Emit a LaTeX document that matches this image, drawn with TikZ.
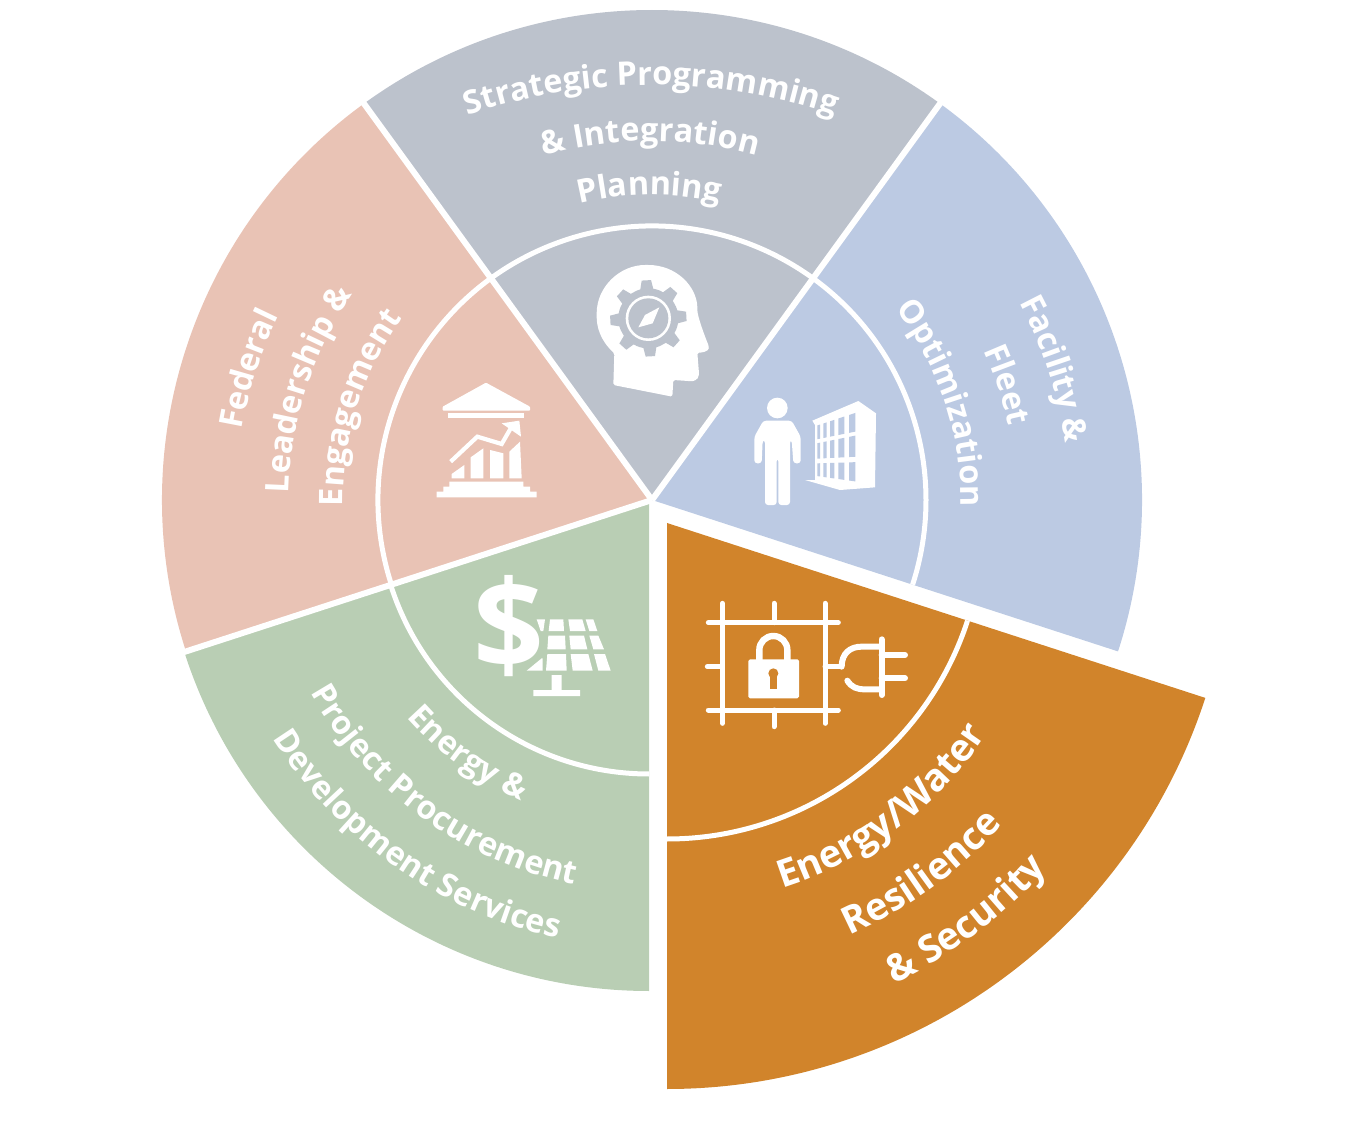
\documentclass[tikz,border=0pt]{standalone}
\usepackage{fontspec}
\setmainfont{Open Sans}
\usetikzlibrary{decorations.text,calc}
\definecolor{cgray}{HTML}{BCC2CC}
\definecolor{cblue}{HTML}{BCCAE3}
\definecolor{csalmon}{HTML}{E9C3B5}
\definecolor{cgreen}{HTML}{B9CEB4}
\definecolor{corange}{HTML}{D1842B}
\newcommand{\arctext}[6][16.2pt]{\path[decorate,decoration={text along path,text align={center},text={|\color{white}\fontsize{#1}{20pt}\selectfont\bfseries|#6}}] (#2) ++(#4:#3) arc (#4:#5:#3);}
\tikzset{
  spoke/.style={white,line width=3pt},
  ring/.style={white,line width=2.5pt},
  zoomone/.style={shift={(580,871)},x=0.16667pt,y=-0.16667pt},
  zoomtwo/.style={shift={(420,751)},x=0.16667pt,y=-0.16667pt},
  zoomthree/.style={shift={(690,531)},x=0.16667pt,y=-0.16667pt},
  wire/.style={white,line width=2.5pt,line cap=round},
  plugwire/.style={white,line width=3pt,line cap=round},
}
\begin{document}
\begin{tikzpicture}[x=0.5pt,y=0.5pt]
\useasboundingbox (0,0) rectangle (1350,1121);
\coordinate (c) at (652,621);
\coordinate (o) at (667,598);
\coordinate (g) at (649,618);
\coordinate (t1) at (651,469);
\coordinate (t2) at (650,580);
% wedges
\fill[cgray] (c) -- ++(126:490) arc (126:54:490) -- cycle;
\fill[cblue] (c) -- ++(54:490) arc (54:-18:490) -- cycle;
\fill[csalmon] (c) -- ++(198:490) arc (198:126:490) -- cycle;
\fill[cgreen] (g) -- ++(198:488) arc (198:270:488) -- cycle;
\fill[corange] (o) -- ++(-90:566) arc (-90:-18:566) -- cycle;
% rings
\draw[ring] (c) ++(198:274) arc (198:-18:274);
\draw[ring] (g) ++(198:271) arc (198:270:271);
\draw[ring] (o) ++(-90:316) arc (-90:-18:316);
% spokes
\path (c) ++(126:495) coordinate (s1) (c) ++(54:495) coordinate (s2) (c) ++(198:495) coordinate (s3);
\draw[spoke] (c) -- (s1);
\draw[spoke] (c) -- (s2);
\draw[spoke] (c) -- (s3);
% labels
\arctext{t1}{567}{115}{65}{Strategic Programming}
\arctext{t2}{400}{120}{60}{{\&} Integration}
\arctext{c}{305}{130.5}{50.5}{Planning}
\arctext{c}{416}{198}{126}{Federal}
\arctext{c}{363}{198.2}{126.2}{Leadership {\&}}
\arctext{c}{309}{198.5}{126.5}{Engagement}
\arctext{c}{417}{54}{-18}{Facility {\&}}
\arctext{c}{364}{54}{-18}{Fleet}
\arctext{c}{309}{54.5}{-17.5}{Optimization}
\arctext{c}{328}{190}{278}{Energy {\&}}
\arctext{c}{392}{190.5}{277.5}{Project Procurement}
\arctext{c}{448}{190.5}{279.5}{Development Services}
\arctext[19pt]{o}{383}{-98}{-8}{Energy/Water}
\arctext[19pt]{o}{451}{-99}{-9}{Resilience}
\arctext[19pt]{o}{514}{-98}{-8}{{\&} Security}
% head icon
\begin{scope}[zoomone]
\fill[white,rounded corners=0.8pt] (100,405) -- (103,310) .. controls (60,270) and (50,230) .. (50,195) .. controls (50,110) and (120,45) .. (200,45) .. controls (290,45) and (350,110) .. (352,175) .. controls (352,200) and (375,260) .. (387,290) .. controls (385,305) and (365,308) .. (352,308) -- (357,370) .. controls (355,390) and (340,395) .. (325,393) -- (280,390) -- (277,440) -- cycle;
\fill[cgray] (205,205) circle (90);
\foreach \a in {-93,-48,...,247}
  \fill[cgray] ($(205,205)+(\a-14:85)$) -- ($(205,205)+(\a-7:115)$) -- ($(205,205)+(\a+7:115)$) -- ($(205,205)+(\a+14:85)$) -- cycle;
\fill[white] (205,205) circle (68);
\fill[cgray] (205,205) circle (60);
\fill[white] (238,172) -- (195,195) -- (175,232) -- (218,220) -- cycle;
% person
\fill[white] (592,474) circle (31);
\fill[white,rounded corners=1.5pt] (523,640) -- (523,560) -- (550,512) -- (635,512) -- (662,560) -- (662,640) -- (640,640) -- (635,570) -- (630,570) -- (630,765) -- (595,765) -- (595,625) -- (590,625) -- (590,765) -- (555,765) -- (555,570) -- (548,570) -- (545,640) -- cycle;
% building
\fill[white] (697,512) -- (835,453) -- (888,490) -- (885,712) -- (780,720) -- (675,690) -- (705,690) -- (705,525) -- cycle;
\foreach \a/\b in {712/720,730/740,750/763,775/793,807/826}
 \foreach \p/\q/\r/\s in {527/-0.33/568/-0.2,580/-0.2/626/-0.05,640/-0.03/678/0.14}
  \fill[cblue] ({\a},{\p+\q*(\a-710)}) -- ({\b},{\p+\q*(\b-710)}) -- ({\b},{\r+\s*(\b-710)}) -- ({\a},{\r+\s*(\a-710)}) -- cycle;
\end{scope}
% bank and solar icons
\begin{scope}[zoomtwo]
\fill[white,rounded corners=0.4pt] (198,38) -- (330,110) -- (330,122) -- (68,122) -- (68,110) -- cycle;
\fill[white] (85,130) rectangle (312,143);
\fill[white] (95,325) -- (95,312) -- (133,285) -- (133,325) -- cycle;
\fill[white] (152,325) -- (152,262) -- (190,235) -- (190,325) -- cycle;
\fill[white] (210,325) -- (210,240) -- (250,250) -- (250,325) -- cycle;
\fill[white] (268,325) -- (268,245) -- (300,215) -- (305,325) -- cycle;
\draw[white,line width=2.1pt] (92,275) -- (172,200) -- (245,222) -- (275,170);
\fill[white] (245,160) -- (298,152) -- (303,200) -- cycle;
\fill[white] (88,335) -- (310,335) -- (310,350) -- (330,350) -- (330,365) -- (350,365) -- (350,382) -- (50,382) -- (50,365) -- (70,365) -- (70,350) -- (88,350) -- cycle;
% solar panel
\fill[white] (350,748) -- (375,748) -- (370,783) -- (362,783) -- cycle;
\fill[white] (390,748) -- (430,748) -- (432,783) -- (386,783) -- cycle;
\fill[white] (445,748) -- (487,748) -- (497,783) -- (450,783) -- cycle;
\fill[white] (497,748) -- (520,748) -- (532,783) -- (508,783) -- cycle;
\fill[white] (385,797) -- (435,797) -- (437,838) -- (382,838) -- cycle;
\fill[white] (448,797) -- (492,797) -- (502,838) -- (452,838) -- cycle;
\fill[white] (508,797) -- (535,797) -- (552,838) -- (520,838) -- cycle;
\fill[white] (382,852) -- (438,852) -- (440,902) -- (378,902) -- cycle;
\fill[white] (452,852) -- (505,852) -- (518,902) -- (458,902) -- cycle;
\fill[white] (522,852) -- (555,852) -- (572,902) -- (535,902) -- cycle;
\fill[white] (365,865) -- (368,865) -- (368,902) -- (320,902) -- cycle;
\fill[white] (395,915) -- (425,915) -- (425,960) -- (480,960) -- (480,978) -- (340,978) -- (340,960) -- (395,960) -- cycle;
\node[white,font=\fontsize{62pt}{62pt}\selectfont\bfseries,inner sep=0pt] (dollar) at (268,768) {\$};
\end{scope}
% lock and plug icon
\begin{scope}[zoomthree]
\draw[wire] (55,98) -- (445,98);
\draw[wire] (55,360) -- (445,360);
\draw[wire] (97,40) -- (97,400);
\draw[wire] (405,40) -- (405,400);
\draw[wire] (252,40) -- (252,98);
\draw[wire] (252,360) -- (252,410);
\draw[wire] (52,230) -- (97,230);
\draw[wire] (405,230) -- (455,230);
\draw[plugwire] (455,230) .. controls (455,190) and (480,170) .. (515,170) -- (575,170);
\draw[plugwire] (575,148) -- (575,315);
\draw[plugwire] (575,195) -- (645,195);
\draw[plugwire] (575,265) -- (645,265);
\draw[plugwire] (472,272) .. controls (485,292) and (500,298) .. (525,298) -- (575,298);
\fill[white,rounded corners=0.8pt] (175,208) rectangle (327,325);
\draw[white,line width=3.2pt] (208,215) -- (208,180) arc (180:360:42) -- (292,215);
\fill[corange] (250,250) circle (15);
\fill[corange] (240,250) rectangle (260,297);
\end{scope}
\end{tikzpicture}
\end{document}
